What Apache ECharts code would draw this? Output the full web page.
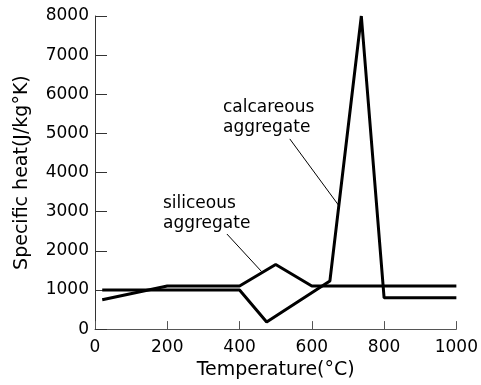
<!DOCTYPE html>
<html>
<head>
<meta charset="utf-8">
<script src="https://cdn.jsdelivr.net/npm/echarts@6/dist/echarts.min.js"></script>
<style>
  html, body { margin: 0; padding: 0; background: #fff; }
  #chart { width: 481px; height: 385px; }
</style>
</head>
<body>
<div id="chart"></div>
<script>
const xTicks = [0, 200, 400, 600, 800, 1000]
const yTicks = [0, 1000, 2000, 3000, 4000, 5000, 6000, 7000, 8000]

const siliceousTemp = [20, 200, 400, 500, 600, 1000]
const siliceousHeat = [750, 1100, 1100, 1650, 1100, 1100]

const calcareousTemp = [20, 400, 475, 650, 737, 800, 1000]
const calcareousHeat = [1000, 1000, 180, 1230, 8000, 800, 800]

// leader lines from the labels to the curves, in data units
const calcareousLeader = [[539, 4860], [676, 3140]]
const siliceousLeader = [[365, 2430], [461, 1470]]

const font = '"DejaVu Sans", sans-serif'
const pair = (xs, ys) => xs.map((x, i) => [x, ys[i]])
const plain = v => String(v)

const leader = pts => ({
  silent: true,
  symbol: 'none',
  label: { show: false },
  lineStyle: { color: '#000', width: 1, type: 'solid' },
  data: [[{ coord: pts[0] }, { coord: pts[1] }]]
})

const chart = echarts.init(document.getElementById('chart'))
chart.setOption({
  animation: false,
  grid: { left: 95, right: 24, top: 16, bottom: 53 },
  xAxis: {
    type: 'value',
    min: xTicks[0],
    max: xTicks[xTicks.length - 1],
    interval: 200,
    name: 'Temperature(°C)',
    nameLocation: 'middle',
    nameGap: 31,
    nameTextStyle: { color: '#000', fontSize: 19, fontFamily: font },
    axisLine: { lineStyle: { color: '#555', width: 1 } },
    axisTick: { inside: true, length: 8, lineStyle: { color: '#555' } },
    axisLabel: { color: '#000', fontSize: 17, fontFamily: font, margin: 10, formatter: plain },
    splitLine: { show: false }
  },
  yAxis: {
    type: 'value',
    min: yTicks[0],
    max: yTicks[yTicks.length - 1],
    interval: 1000,
    name: 'Specific heat(J/kg°K)',
    nameLocation: 'middle',
    nameGap: 63,
    nameTextStyle: { color: '#000', fontSize: 19, fontFamily: font },
    axisLine: { show: true, lineStyle: { color: '#333', width: 1 } },
    axisTick: { inside: true, length: 12, lineStyle: { color: '#333' } },
    axisLabel: { color: '#000', fontSize: 17, fontFamily: font, margin: 6, formatter: plain },
    splitLine: { show: false }
  },
  graphic: [
    {
      type: 'text', left: 223, top: 98,
      style: { text: 'calcareous\naggregate', fill: '#000', font: '17px ' + font, lineHeight: 20 }
    },
    {
      type: 'text', left: 163, top: 194,
      style: { text: 'siliceous\naggregate', fill: '#000', font: '17px ' + font, lineHeight: 20 }
    }
  ],
  series: [
    {
      name: 'siliceous aggregate',
      type: 'line',
      data: pair(siliceousTemp, siliceousHeat),
      symbol: 'none',
      lineStyle: { color: '#000', width: 3 },
      markLine: leader(siliceousLeader)
    },
    {
      name: 'calcareous aggregate',
      type: 'line',
      data: pair(calcareousTemp, calcareousHeat),
      symbol: 'none',
      lineStyle: { color: '#000', width: 3 },
      markLine: leader(calcareousLeader)
    }
  ]
})
</script>
</body>
</html>
